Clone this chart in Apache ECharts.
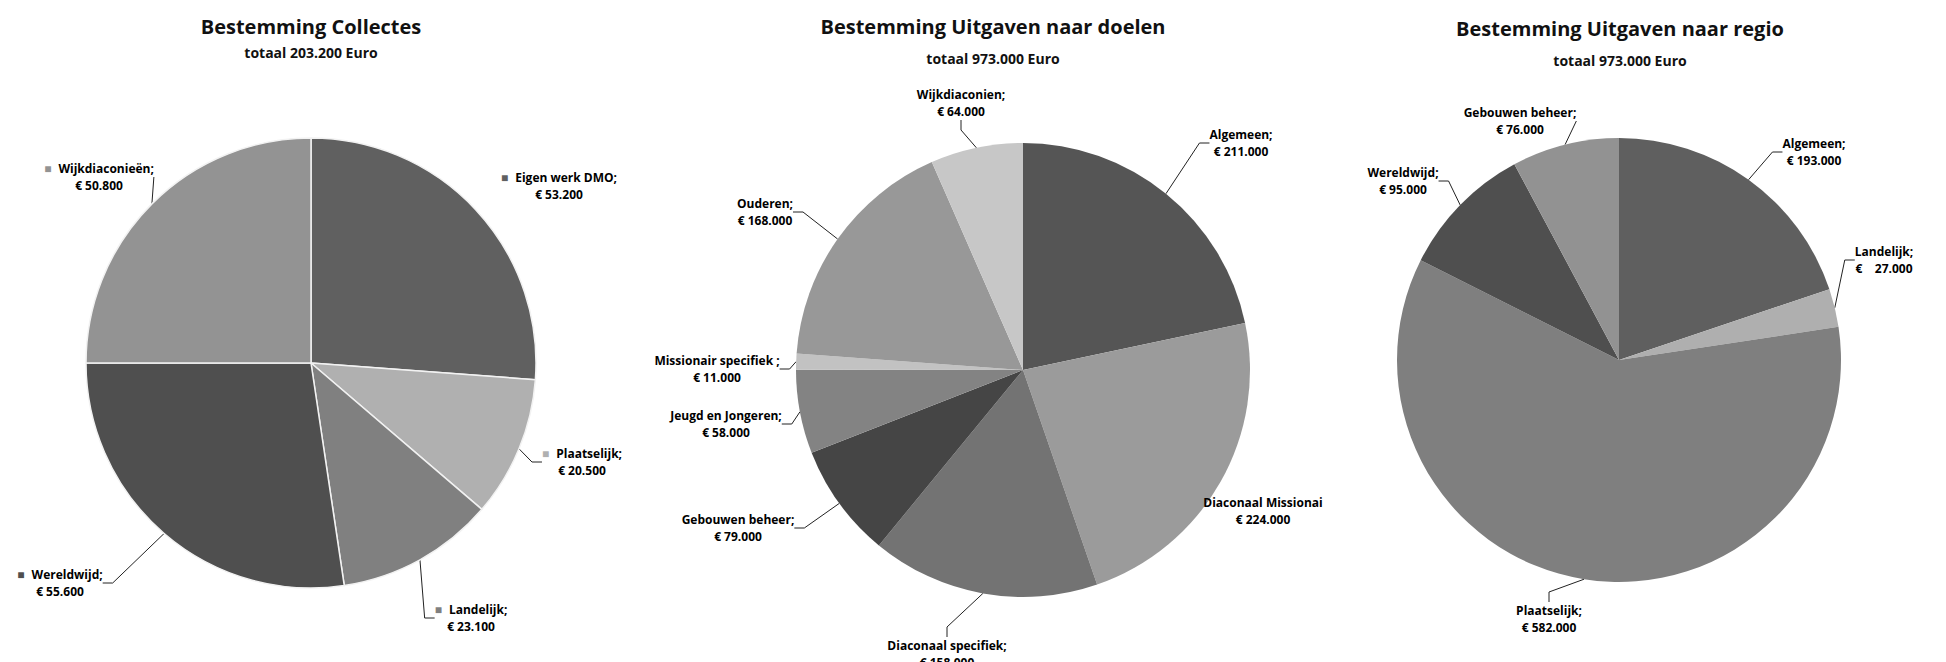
<!DOCTYPE html>
<html>
<head>
<meta charset="utf-8">
<script src="https://cdn.jsdelivr.net/npm/echarts@6/dist/echarts.min.js"></script>
<style>
  html, body { margin: 0; padding: 0; background: #fff; }
  #main { width: 1946px; height: 662px; }
</style>
</head>
<body>
<div id="main"></div>
<script>
// Bestemming Collectes
var collectNames = ['Eigen werk DMO', 'Plaatselijk', 'Landelijk', 'Wereldwijd', 'Wijkdiaconieën']
var collectValues = [53200, 20500, 23100, 55600, 50800]
var collectColors = ['#606060', '#b0b0b0', '#808080', '#4f4f4f', '#939393']

// Bestemming Uitgaven naar doelen
var doelNames = ['Algemeen', 'Diaconaal Missionai', 'Diaconaal specifiek', 'Gebouwen beheer',
    'Jeugd en Jongeren', 'Missionair specifiek ', 'Ouderen', 'Wijkdiaconien']
var doelValues = [211000, 224000, 158000, 79000, 58000, 11000, 168000, 64000]
var doelColors = ['#555555', '#9b9b9b', '#737373', '#454545', '#838383', '#c2c2c2', '#989898', '#c7c7c7']

// Bestemming Uitgaven naar regio
var regioNames = ['Algemeen', 'Landelijk', 'Plaatselijk', 'Wereldwijd', 'Gebouwen beheer']
var regioValues = [193000, 27000, 582000, 95000, 76000]
var regioColors = ['#5f5f5f', '#afafaf', '#7f7f7f', '#4f4f4f', '#929292']

// label block centres (layout only)
var collectLabelPos = [[559, 186], [582, 462], [471, 618], [60, 583], [99, 177]]
var doelLabelPos = [[1241, 143], [1263, 511], [947, 654], [738, 528], [726, 424], [717, 369], [765, 212], [961, 103]]
var regioLabelPos = [[1814, 152], [1884, 260], [1549, 619], [1403, 181], [1520, 121]]
var labelPos = [collectLabelPos, doelLabelPos, regioLabelPos]

function euro(v) {
    return String(v).replace(/\B(?=(\d{3})+(?!\d))/g, '.')
}

var chart = echarts.init(document.getElementById('main'), null, { renderer: 'svg' })

var fontFamily = '"Open Sans", "Noto Sans", sans-serif'

var squareRich = {}
collectColors.forEach(function (c, i) {
    squareRich['sq' + i] = { color: c, fontSize: 12, padding: [0, 7, 0, 0] }
})
squareRich.t = { fontSize: 12, fontWeight: 'bold', color: '#000', lineHeight: 17, fontFamily: fontFamily }

function makeData(names, values, colors, noLine) {
    return names.map(function (n, i) {
        var item = { name: n, value: values[i], itemStyle: { color: colors[i] } }
        if (noLine.indexOf(i) >= 0) item.labelLine = { show: false }
        return item
    })
}

var baseLabel = {
    show: true,
    position: 'outside',
    fontSize: 12,
    fontWeight: 'bold',
    color: '#000',
    lineHeight: 17,
    fontFamily: fontFamily,
    align: 'center'
}

function layoutFor(params) {
    var p = labelPos[params.seriesIndex][params.dataIndex]
    return { x: p[0], y: p[1], align: 'center', verticalAlign: 'middle' }
}

var pieBase = {
    type: 'pie',
    radius: 225,
    startAngle: 90,
    clockwise: true,
    animation: false,
    silent: true,
    avoidLabelOverlap: false,
    labelLine: { show: true, length: 10, length2: 10, lineStyle: { color: '#222', width: 1 } },
    labelLayout: layoutFor,
    emphasis: { disabled: true }
}

var option = {
    backgroundColor: '#ffffff',
    title: [
        {
            text: 'Bestemming Collectes', subtext: 'totaal 203.200 Euro',
            left: 311, top: 16, textAlign: 'center', padding: 0, itemGap: 9,
            textStyle: { fontSize: 20, fontWeight: 'bold', color: '#111', fontFamily: fontFamily },
            subtextStyle: { fontSize: 14, fontWeight: 'bold', color: '#111', fontFamily: fontFamily }
        },
        {
            text: 'Bestemming Uitgaven naar doelen', subtext: 'totaal 973.000 Euro',
            left: 993, top: 16, textAlign: 'center', padding: 0, itemGap: 15,
            textStyle: { fontSize: 20, fontWeight: 'bold', color: '#111', fontFamily: fontFamily },
            subtextStyle: { fontSize: 14, fontWeight: 'bold', color: '#111', fontFamily: fontFamily }
        },
        {
            text: 'Bestemming Uitgaven naar regio', subtext: 'totaal 973.000 Euro',
            left: 1620, top: 18, textAlign: 'center', padding: 0, itemGap: 15,
            textStyle: { fontSize: 20, fontWeight: 'bold', color: '#111', fontFamily: fontFamily },
            subtextStyle: { fontSize: 14, fontWeight: 'bold', color: '#111', fontFamily: fontFamily }
        }
    ],
    series: [
        Object.assign({}, pieBase, {
            name: 'Bestemming Collectes',
            center: [311, 363],
            radius: 225,
            itemStyle: { borderColor: '#f2f2f2', borderWidth: 1.5 },
            label: Object.assign({}, baseLabel, {
                rich: squareRich,
                formatter: function (p) {
                    return '{sq' + p.dataIndex + '|■}{t|' + p.name + ';}\n{t|€ ' + euro(p.value) + '}'
                }
            }),
            data: makeData(collectNames, collectValues, collectColors, [0])
        }),
        Object.assign({}, pieBase, {
            name: 'Bestemming Uitgaven naar doelen',
            center: [1023, 370],
            radius: 227,
            label: Object.assign({}, baseLabel, {
                formatter: function (p) {
                    var sep = p.dataIndex === 1 ? '' : ';'
                    return p.name + sep + '\n€ ' + euro(p.value)
                }
            }),
            data: makeData(doelNames, doelValues, doelColors, [1])
        }),
        Object.assign({}, pieBase, {
            name: 'Bestemming Uitgaven naar regio',
            center: [1619, 360],
            radius: 222,
            label: Object.assign({}, baseLabel, {
                formatter: function (p) {
                    var gap = p.value < 50000 ? '    ' : ' '
                    return p.name + ';\n€' + gap + euro(p.value)
                }
            }),
            data: makeData(regioNames, regioValues, regioColors, [])
        })
    ]
}

chart.setOption(option)
</script>
</body>
</html>
